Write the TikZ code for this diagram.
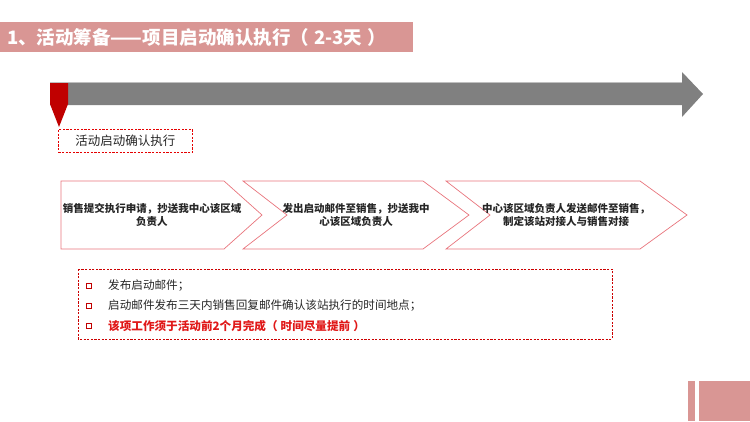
\documentclass[tikz,border=0pt]{standalone}
\usepackage{fontspec}
\setmainfont{Noto Sans CJK SC}
\definecolor{pinkbar}{HTML}{D99694}
\definecolor{arrowgray}{HTML}{808080}
\definecolor{markred}{HTML}{C00000}
\definecolor{chevline}{HTML}{E8747C}
\definecolor{txtdark}{HTML}{262626}
\definecolor{alertred}{HTML}{E01818}
\begin{document}
\begin{tikzpicture}[x=1pt,y=-1pt,
  chev/.style={draw=chevline,line width=0.7pt,line join=miter},
  chevtext/.style={font=\fontsize{10.5}{13}\selectfont\bfseries,text=txtdark,align=center,inner sep=0pt},
  bulletsq/.style={draw=markred,line width=1.4pt,minimum size=5.5pt,inner sep=0pt},
  bullettext/.style={font=\fontsize{11.6}{13}\selectfont,text=txtdark,anchor=west,inner sep=0pt},
  finedash/.style={dash pattern=on 2.2pt off 1.4pt}]
\useasboundingbox (0,0) rectangle (750,421);
% title bar
\fill[pinkbar] (0,22) rectangle (413,52);
\node[anchor=west,text=white,font=\fontsize{18.5}{21}\selectfont\bfseries,inner sep=0pt] (title) at (7,37.5) {1、活动筹备——项目启动确认执行（\hspace{5pt}2-3天\hspace{5pt}）};
% gray timeline arrow
\fill[arrowgray] (50,83) -- (682,83) -- (682,72) -- (703,94) -- (682,117) -- (682,105) -- (50,105) -- cycle;
\draw[black!25,line width=0.8pt] (50,82.6) -- (682,82.6);
% red marker
\fill[markred] (50,83) -- (68,83) -- (68,104) -- (59,127) -- (50,104) -- cycle;
% dashed start label
\node[draw=red!90!black,finedash,line width=0.8pt,minimum width=134pt,minimum height=23pt,inner sep=0pt,
  font=\fontsize{12.5}{14}\selectfont,text=txtdark,anchor=north west] (startlbl) at (58,129) {活动启动确认执行};
% chevrons
\draw[chev] (61,181) -- (224,181) -- (262,215) -- (224,249) -- (61,249) -- cycle;
\draw[chev] (243,181) -- (423,181) -- (469,215) -- (423,249) -- (243,249) -- (287,215) -- cycle;
\draw[chev] (446,181) -- (640,181) -- (687,215) -- (640,249) -- (446,249) -- (490,215) -- cycle;
\node[chevtext] (c1) at (152,215) {销售提交执行申请，抄送我中心该区域\\负责人};
\node[chevtext] (c2) at (356,215) {发出启动邮件至销售，抄送我中\\心该区域负责人};
\node[chevtext] (c3) at (566,215) {中心该区域负责人发送邮件至销售，\\制定该站对接人与销售对接};
% bullet box
\draw[draw=red!80!black,finedash,line width=0.7pt] (78,269) rectangle (612,339);
\node[bulletsq] (b1) at (89,286) {};
\node[bulletsq] (b2) at (89,306) {};
\node[bulletsq] (b3) at (89,326) {};
\node[bullettext] (t1) at (108,286) {发布启动邮件；};
\node[bullettext] (t2) at (108,306) {启动邮件发布三天内销售回复邮件确认该站执行的时间地点；};
\node[bullettext,text=alertred,font=\fontsize{11.6}{13}\selectfont\bfseries] (t3) at (108,326) {该项工作须于活动前2个月完成（\hspace{3pt}时间尽量提前\hspace{3pt}）};
% bottom right decoration
\fill[pinkbar] (688,381) rectangle (695,421);
\fill[pinkbar] (699,381) rectangle (750,421);
\end{tikzpicture}
\end{document}
